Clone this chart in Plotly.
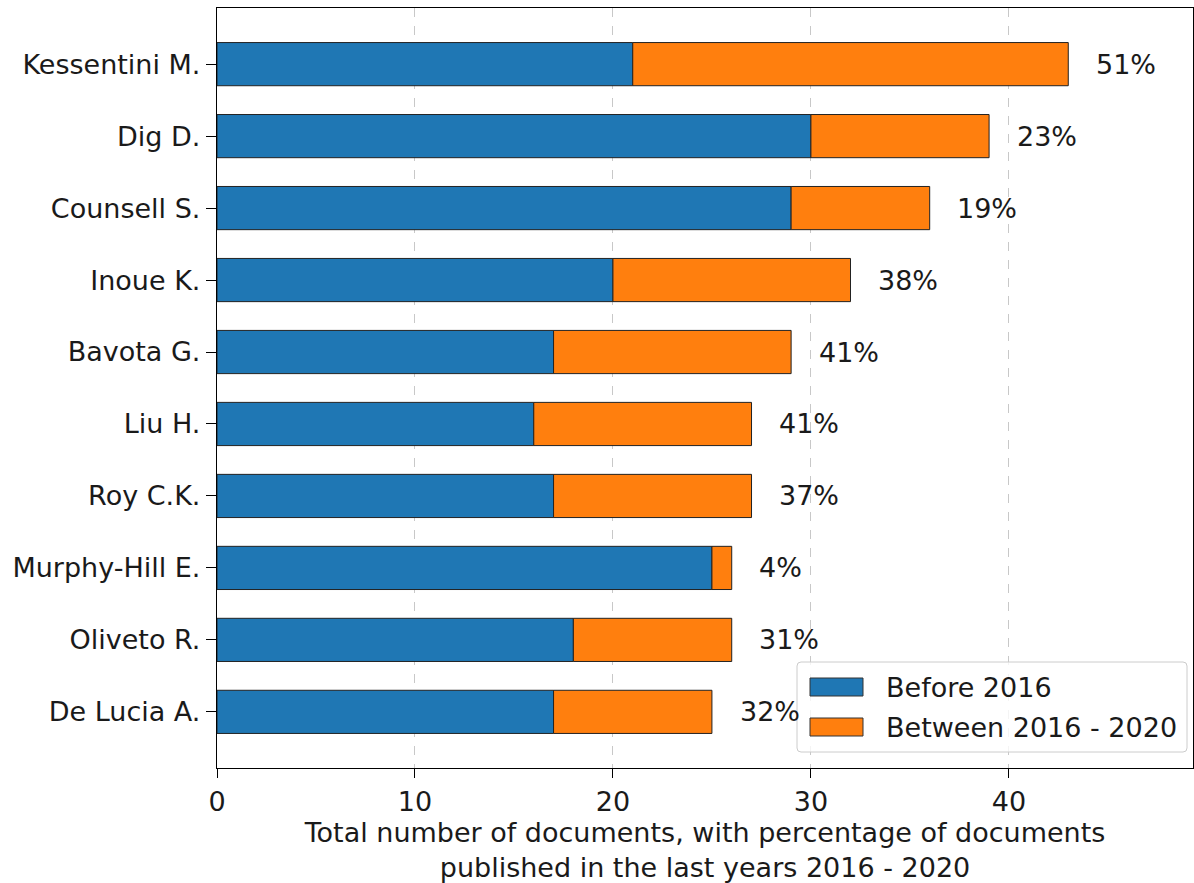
import plotly.graph_objects as go

# Authors (top to bottom) and their document counts
authors = ["Kessentini M.", "Dig D.", "Counsell S.", "Inoue K.", "Bavota G.",
           "Liu H.", "Roy C.K.", "Murphy-Hill E.", "Oliveto R.", "De Lucia A."]
before_2016 = [21, 30, 29, 20, 17, 16, 17, 25, 18, 17]
between_2016_2020 = [22, 9, 7, 12, 12, 11, 10, 1, 8, 8]
x_ticks = [0, 10, 20, 30, 40]

BLUE = "#1f77b4"
ORANGE = "#ff7f0e"
FONT = "DejaVu Sans"
TXT = "#1a1a1a"
FS = 27

totals = [b + a for b, a in zip(before_2016, between_2016_2020)]
pct = [round(100 * a / t) for a, t in zip(between_2016_2020, totals)]

fig = go.Figure()
fig.add_trace(go.Bar(
    y=authors, x=before_2016, orientation="h", width=0.6,
    marker=dict(color=BLUE, line=dict(color="#222222", width=1)),
    name="Before 2016", showlegend=False,
))
fig.add_trace(go.Bar(
    y=authors, x=between_2016_2020, base=before_2016, orientation="h", width=0.6,
    marker=dict(color=ORANGE, line=dict(color="#222222", width=1)),
    name="Between 2016 - 2020", showlegend=False,
))

# Percentage labels to the right of each bar
for name, t, p in zip(authors, totals, pct):
    fig.add_annotation(x=t + 1.3, y=name, text=f"{p}%", showarrow=False,
                       xanchor="left", yanchor="middle",
                       font=dict(family=FONT, size=FS, color=TXT))

W, H = 1194, 883
L, R, T, B = 217, 1, 8, 115
pw, ph = W - L - R, H - T - B


def px(x):
    return (x - L) / pw


def py(y):
    return (H - B - y) / ph


# Legend box (rounded, semi-transparent) drawn in paper coordinates
x0, x1, y0, y1 = px(797), px(1187), py(752), py(662)
rx, ry = 4 / pw, 4 / ph
path = (f"M{x0+rx},{y0} L{x1-rx},{y0} Q{x1},{y0} {x1},{y0+ry} "
        f"L{x1},{y1-ry} Q{x1},{y1} {x1-rx},{y1} L{x0+rx},{y1} "
        f"Q{x0},{y1} {x0},{y1-ry} L{x0},{y0+ry} Q{x0},{y0} {x0+rx},{y0} Z")
fig.add_shape(type="path", path=path, xref="paper", yref="paper",
              fillcolor="rgba(255,255,255,0.8)", line=dict(color="#cccccc", width=1))
legend_items = [("Before 2016", BLUE, 687), ("Between 2016 - 2020", ORANGE, 727)]
for label, col, yc in legend_items:
    fig.add_shape(type="rect", xref="paper", yref="paper",
                  x0=px(810), x1=px(863), y0=py(yc + 9), y1=py(yc - 9),
                  fillcolor=col, line=dict(color="#333333", width=1))
    fig.add_annotation(x=px(884), y=py(yc), xref="paper", yref="paper",
                       text=label, showarrow=False, xanchor="left", yanchor="middle",
                       font=dict(family=FONT, size=FS, color=TXT))

fig.update_layout(
    width=W, height=H,
    margin=dict(l=L, r=R, t=T, b=B),
    paper_bgcolor="white", plot_bgcolor="white",
    barmode="overlay",
    font=dict(family=FONT, size=FS, color=TXT),
    xaxis=dict(
        range=[0, 49.3], tickvals=x_ticks, ticktext=[str(v) for v in x_ticks],
        showgrid=True, gridcolor="#c8c8c8", griddash="dash", gridwidth=1,
        showline=True, linecolor="black", linewidth=1.3, mirror=True,
        ticks="outside", ticklen=9, tickwidth=1.3, tickcolor="black",
        zeroline=False,
        tickfont=dict(family=FONT, size=FS, color=TXT),
        title=dict(text="Total number of documents, with percentage of documents<br>"
                        "published in the last years 2016 - 2020",
                   font=dict(family=FONT, size=FS, color=TXT), standoff=10),
    ),
    yaxis=dict(
        type="category", categoryorder="array", categoryarray=authors[::-1],
        range=[-0.78, 9.78],
        showgrid=False, zeroline=False,
        showline=True, linecolor="black", linewidth=1.3, mirror=True,
        ticks="outside", ticklen=10, tickwidth=1.3, tickcolor="black",
        tickfont=dict(family=FONT, size=FS, color=TXT),
    ),
)

fig.write_html("out.html")
